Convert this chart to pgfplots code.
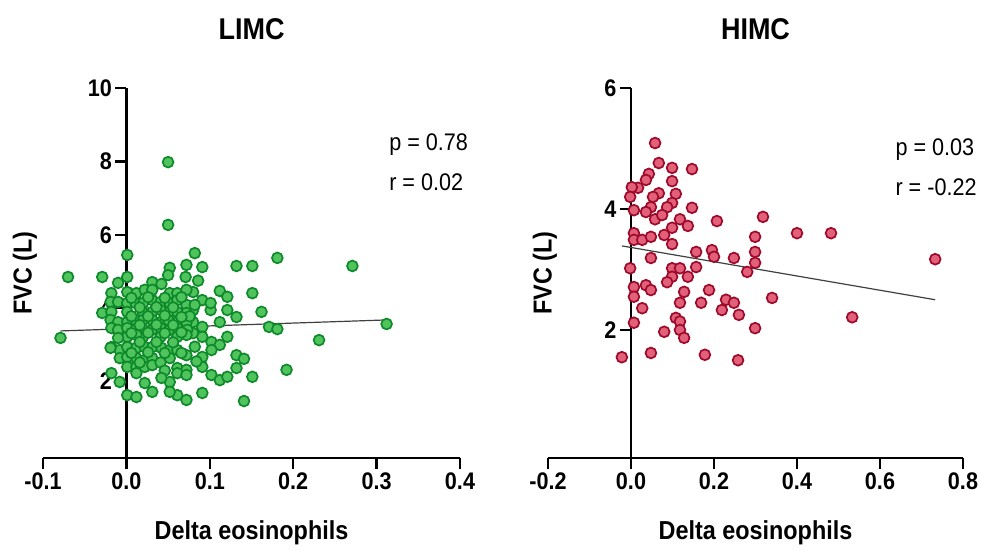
\documentclass[border=0pt]{standalone}
\usepackage{pgfplots}
\pgfplotsset{compat=1.18}
\usepackage{fontspec}
\setmainfont{Liberation Sans}[FakeStretch=0.9]

\definecolor{gfill}{HTML}{4FC35C}
\definecolor{gdraw}{HTML}{0E8A2A}
\definecolor{rfill}{HTML}{E2607A}
\definecolor{rdraw}{HTML}{9E0A2A}

\pgfplotstableread{
x y
-0.079 3.19
-0.070 4.85
-0.029 4.85
0.001 5.45
0.050 7.98
0.050 6.27
0.082 5.50
0.091 5.12
0.132 5.15
0.151 5.15
0.181 5.37
0.271 5.15
0.312 3.57
0.231 3.13
0.192 2.32
0.141 1.47
0.151 2.13
0.151 4.41
0.162 3.90
0.171 3.49
0.181 3.43
0.132 3.76
0.121 3.95
0.112 4.47
0.121 4.31
0.112 3.62
0.101 3.95
0.091 4.22
0.101 4.14
0.080 4.44
0.080 3.95
0.080 3.62
0.091 3.49
0.080 3.32
0.121 3.22
0.091 3.22
0.102 3.08
0.112 3.00
0.102 2.86
0.091 2.67
0.132 2.72
0.141 2.62
0.091 2.40
0.132 2.37
0.102 2.18
0.112 2.04
0.121 2.13
0.091 1.69
0.052 5.10
0.072 5.18
-0.010 4.69
0.031 4.71
0.042 4.66
-0.018 4.41
0.001 4.44
0.012 4.41
0.022 4.50
0.031 4.50
0.052 4.41
0.061 4.41
0.072 4.50
-0.019 4.17
-0.010 4.17
0.001 4.14
0.011 4.14
0.020 4.14
0.031 4.22
0.041 4.17
0.052 4.14
0.061 4.22
0.072 4.09
0.082 4.09
-0.029 3.87
-0.018 3.90
0.001 3.90
0.020 3.87
0.031 3.90
0.041 3.95
0.052 3.90
0.061 3.90
0.072 3.87
-0.019 3.68
-0.010 3.62
0.001 3.62
0.011 3.68
0.020 3.68
0.031 3.68
0.041 3.62
0.050 3.68
0.061 3.62
0.072 3.62
-0.018 3.46
-0.010 3.41
0.001 3.46
0.011 3.41
0.020 3.41
0.031 3.41
0.041 3.46
0.052 3.41
0.061 3.46
0.073 3.41
0.001 3.22
0.020 3.22
0.041 3.22
0.061 3.22
-0.010 3.19
0.012 3.27
0.072 3.27
-0.018 2.94
-0.008 2.86
0.001 2.94
0.012 2.92
0.022 2.94
0.031 2.94
0.042 2.92
0.052 2.86
0.061 2.86
-0.008 2.64
0.001 2.67
0.012 2.64
0.022 2.59
0.031 2.64
0.052 2.64
0.072 2.72
0.001 2.40
0.012 2.40
0.022 2.40
0.031 2.45
0.061 2.37
0.072 2.32
-0.018 2.23
-0.008 1.99
0.012 2.23
0.022 1.96
0.031 1.72
0.052 1.99
0.061 2.23
0.072 2.18
0.001 1.63
0.012 1.58
0.061 1.63
0.072 1.50
0.052 1.72
-0.019 2.92
0.001 4.85
0.071 4.85
0.050 4.90
0.006 4.28
0.026 4.30
0.046 4.28
0.066 4.30
0.016 4.02
0.036 4.03
0.056 4.02
0.076 3.78
0.006 3.78
0.026 3.78
0.046 3.80
0.066 3.76
0.016 3.54
0.036 3.55
0.056 3.54
0.006 3.32
0.026 3.33
0.046 3.32
0.066 3.34
0.016 3.08
0.036 3.08
0.056 3.07
0.006 2.78
0.026 2.80
0.046 2.78
0.066 2.78
0.016 2.52
0.041 2.52
0.046 2.30
0.082 2.95
0.084 2.55
0.042 2.10
0.086 4.75
}\limc

\pgfplotstableread{
x y
0.058 5.09
0.067 4.76
0.099 4.68
0.147 4.66
0.043 4.58
0.036 4.48
0.099 4.46
0.017 4.35
0.002 4.36
-0.002 4.20
0.067 4.26
0.053 4.20
0.108 4.25
0.099 4.10
0.087 4.03
0.048 4.03
0.036 3.95
0.007 3.98
0.147 4.02
0.058 3.83
0.075 3.90
0.118 3.83
0.137 3.72
0.099 3.69
0.207 3.80
0.318 3.87
0.299 3.54
0.007 3.60
0.007 3.49
0.027 3.49
0.048 3.54
0.080 3.57
0.099 3.42
0.157 3.29
0.195 3.32
0.200 3.21
0.248 3.19
0.299 3.29
0.299 3.11
0.280 2.96
0.048 3.19
-0.002 3.02
0.099 3.02
0.118 3.02
0.157 3.04
0.099 2.88
0.137 2.88
0.087 2.79
0.007 2.71
0.036 2.74
0.048 2.66
0.007 2.55
0.128 2.63
0.188 2.66
0.340 2.53
0.027 2.36
0.118 2.45
0.169 2.45
0.229 2.50
0.248 2.45
0.219 2.33
0.260 2.25
0.108 2.20
0.118 2.14
0.118 2.00
0.007 2.12
0.080 1.97
0.128 1.87
0.299 2.03
-0.022 1.55
0.048 1.62
0.178 1.59
0.258 1.50
0.400 3.60
0.482 3.60
0.733 3.17
0.533 2.21
}\himc

\pgfplotsset{
  gp/.style={
    scale only axis, height=370pt,
    axis x line=bottom, axis y line=center,
    axis line style={-, line width=2.5pt, black},
    tick align=outside, major tick length=11pt,
    tick style={line width=2.5pt, black},
    hide obscured x ticks=false, hide obscured y ticks=false,
    ticklabel style={font=\fontsize{24}{24}\selectfont\bfseries},
    every axis title/.style={at={(axis description cs:0.5,1)}, anchor=base,
      yshift=48pt, font=\fontsize{30}{30}\selectfont\bfseries},
    every axis x label/.style={at={(axis description cs:0.5,0)}, anchor=north,
      yshift=-62pt, inner sep=0pt, font=\fontsize{26}{26}\selectfont\bfseries},
    every axis y label/.style={rotate=90, anchor=south, inner sep=0pt,
      font=\fontsize{26}{26}\selectfont\bfseries},
    xlabel={Delta eosinophils}, ylabel={FVC (L)},
    clip=false,
  },
}

\begin{document}
\begin{tikzpicture}
\useasboundingbox (0,0) rectangle (989pt,556pt);

\begin{axis}[gp, at={(43pt,98pt)}, anchor=south west, width=417pt,
  title={LIMC},
  xmin=-0.1, xmax=0.4, ymin=-0.082, ymax=10,
  xtick={-0.1,0,0.1,0.2,0.3,0.4},
  xticklabels={-0.1,0.0,0.1,0.2,0.3,0.4},
  ytick={2,4,6,8,10}, yticklabels={2,4,6,8,10},
  ylabel style={at={(axis description cs:-0.014,0.5)}}]
\addplot[no marks, line width=1.2pt, black!75] coordinates {(-0.079,3.38) (0.312,3.68)};
\addplot[only marks, mark=*, mark size=5.4pt,
  mark options={fill=gfill, draw=gdraw, line width=1.7pt}] table {\limc};
\node[anchor=base west, font=\fontsize{24}{24}\selectfont] at (axis cs:0.311,8.31) {p = 0.78};
\node[anchor=base west, font=\fontsize{24}{24}\selectfont] at (axis cs:0.311,7.22) {r = 0.02};
\end{axis}

\begin{axis}[gp, at={(548pt,98pt)}, anchor=south west, width=415pt,
  title={HIMC},
  xmin=-0.2, xmax=0.8, ymin=-0.116, ymax=6,
  xtick={-0.2,0,0.2,0.4,0.6,0.8},
  xticklabels={-0.2,0.0,0.2,0.4,0.6,0.8},
  ytick={2,4,6}, yticklabels={2,4,6},
  ylabel style={at={(axis description cs:0.022,0.5)}}]
\addplot[no marks, line width=1.2pt, black!75] coordinates {(-0.022,3.39) (0.733,2.50)};
\addplot[only marks, mark=*, mark size=5.4pt,
  mark options={fill=rfill, draw=rdraw, line width=1.7pt}] table {\himc};
\node[anchor=base west, font=\fontsize{24}{24}\selectfont] at (axis cs:0.629,4.89) {p = 0.03};
\node[anchor=base west, font=\fontsize{24}{24}\selectfont] at (axis cs:0.629,4.23) {r = -0.22};
\end{axis}
\end{tikzpicture}
\end{document}
